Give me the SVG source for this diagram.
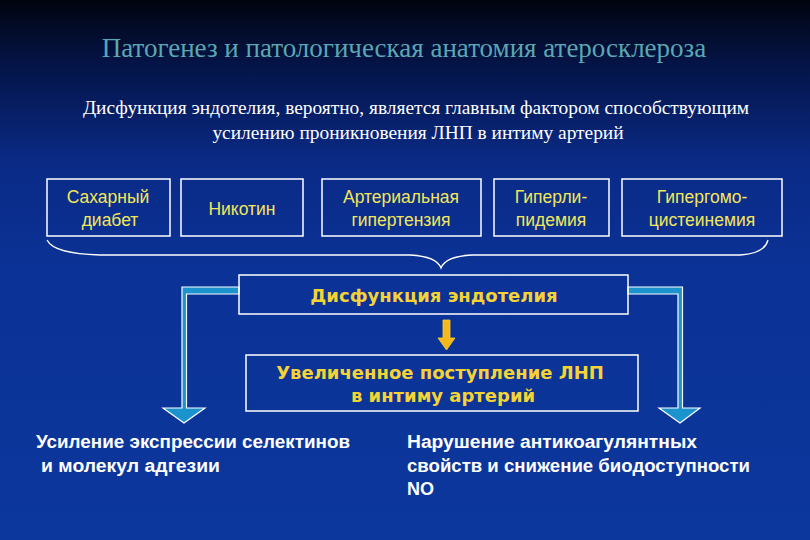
<svg xmlns="http://www.w3.org/2000/svg" width="810" height="540" viewBox="0 0 810 540">
<defs>
<linearGradient id="bg" x1="0" y1="0" x2="0" y2="1">
<stop offset="0" stop-color="#01040f"/>
<stop offset="0.12" stop-color="#041447"/>
<stop offset="0.3" stop-color="#0a2a86"/>
<stop offset="0.5" stop-color="#0b3296"/>
<stop offset="1" stop-color="#0c379c"/>
</linearGradient>
<style>
.box{fill:none;stroke:#ffffff;stroke-width:1.5}
.ty{font-family:"Liberation Sans",Arial,sans-serif;font-size:17.5px;fill:#f2e65a;text-anchor:middle}
.tb{font-family:"DejaVu Sans",Verdana,sans-serif;font-size:18px;font-weight:bold;fill:#f5d335;text-anchor:middle}
.tw{font-family:"Liberation Sans",Arial,sans-serif;font-size:18px;font-weight:bold;fill:#ffffff}
.conn{fill:#1b93cf;stroke:#ffffff;stroke-width:1.2;stroke-linejoin:miter}
</style>
</defs>
<rect width="810" height="540" fill="url(#bg)"/>
<text x="404" y="57" font-family="Liberation Serif,serif" font-size="27" fill="#5aa6b2" text-anchor="middle">Патогенез и патологическая анатомия атеросклероза</text>
<text x="416" y="114" font-family="Liberation Serif,serif" font-size="19.4" fill="#ffffff" text-anchor="middle">Дисфункция эндотелия, вероятно, является главным фактором способствующим</text>
<text x="418" y="139" font-family="Liberation Serif,serif" font-size="19.4" fill="#ffffff" text-anchor="middle">усилению проникновения ЛНП в интиму артерий</text>

<g id="n1"><rect class="box" x="47" y="179" width="123" height="57"/><text class="ty" x="108" y="203">Сахарный</text><text class="ty" x="110" y="226">диабет</text></g>
<g id="n2"><rect class="box" x="181" y="179" width="122" height="57"/><text class="ty" x="242" y="215">Никотин</text></g>
<g id="n3"><rect class="box" x="322" y="179" width="159" height="57"/><text class="ty" x="401" y="203">Артериальная</text><text class="ty" x="401" y="226">гипертензия</text></g>
<g id="n4"><rect class="box" x="494" y="179" width="115" height="57"/><text class="ty" x="551" y="203">Гиперли-</text><text class="ty" x="551" y="226">пидемия</text></g>
<g id="n5"><rect class="box" x="622" y="179" width="160" height="57"/><text class="ty" x="702" y="203">Гипергомо-</text><text class="ty" x="702" y="226">цистеинемия</text></g>

<g id="brace"><path d="M47,240 C52,250 70,254 100,255 L410,255 C428,256 438,260 441,268 C444,260 454,256 472,255 L740,255 C758,254 766,248 768,240" fill="none" stroke="#ffffff" stroke-width="1.3"/></g>

<g id="connectors">
<path class="conn" d="M239,287 L182,287 L182,408 L163,408 L184,423 L205,408 L186.5,408 L186.5,294 L239,294 Z"/>
<path class="conn" d="M628,287 L682.5,287 L682.5,408 L700,408 L680,423 L659,408 L678,408 L678,294 L628,294 Z"/>
<path d="M443,320 L450,320 L450,338 L455,338 L446.5,350 L438,338 L443,338 Z" fill="#f5b81a" stroke="#f8d030" stroke-width="0.8"/>
</g>

<g id="n6"><rect class="box" x="239" y="275" width="389" height="39"/><text class="tb" x="434" y="302">Дисфункция эндотелия</text></g>
<g id="n7"><rect class="box" x="246" y="355" width="392" height="56"/><text class="tb" x="440" y="379">Увеличенное поступление ЛНП</text><text class="tb" x="443" y="402">в интиму артерий</text></g>

<g id="n8"><text class="tw" x="36" y="448" textLength="314" lengthAdjust="spacingAndGlyphs">Усиление экспрессии селектинов</text><text class="tw" x="41" y="472" textLength="179" lengthAdjust="spacingAndGlyphs">и молекул адгезии</text></g>
<g id="n9"><text class="tw" x="407" y="448" textLength="290" lengthAdjust="spacingAndGlyphs">Нарушение антикоагулянтных</text><text class="tw" x="407" y="472" textLength="343" lengthAdjust="spacingAndGlyphs">свойств и снижение биодоступности</text><text class="tw" x="407" y="495">NO</text></g>
</svg>
